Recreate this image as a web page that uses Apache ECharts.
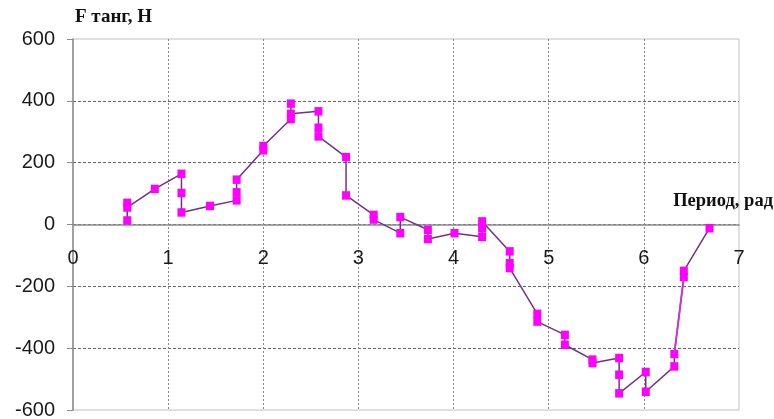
<!DOCTYPE html>
<html>
<head>
<meta charset="utf-8">
<script src="https://cdn.jsdelivr.net/npm/echarts@6/dist/echarts.min.js"></script>
<style>
  html, body { margin: 0; padding: 0; background: #fff; }
  #main { width: 774px; height: 419px; }
</style>
</head>
<body>
<div id="main"></div>
<script>
// период, рад
var periodX = [0.57, 0.57, 0.57, 0.86, 1.14, 1.14, 1.14, 1.44, 1.72, 1.72, 1.72,
  2.0, 2.0, 2.29, 2.29, 2.29, 2.58, 2.58, 2.58, 2.87, 2.87, 3.16, 3.16, 3.44, 3.44,
  3.73, 3.73, 4.01, 4.30, 4.30, 4.30, 4.59, 4.59, 4.59, 4.88, 4.88, 5.17, 5.17,
  5.46, 5.46, 5.74, 5.74, 5.74, 6.02, 6.02, 6.32, 6.32, 6.42, 6.42, 6.69];
// F танг, Н
var forceY = [13, 70, 55, 115, 164, 102, 39, 60, 78, 104, 145,
  240, 254, 341, 391, 358, 366, 313, 285, 218, 94, 31, 16, -28, 24,
  -17, -47, -28, -40, -12, 10, -87, -125, -141, -289, -314, -357, -389,
  -437, -448, -432, -486, -546, -477, -541, -459, -419, -170, -150, -12];

var pts = [];
for (var i = 0; i < periodX.length; i++) {
  pts.push([periodX[i], forceY[i]]);
}
// the steep rise near 6.4 is drawn brighter in the original
var steepPart = pts.slice(46, 48);

var chartH = 419, gridTop = 39, gridBottom = 9;
// x axis sits on the zero line (middle of the -600..600 range)
var zeroShift = -(chartH - gridTop - gridBottom) / 2;

var myChart = echarts.init(document.getElementById('main'));

var option = {
  animation: false,
  grid: {
    left: 73,
    right: 35,
    top: gridTop,
    bottom: gridBottom,
    outerBoundsMode: 'none',
    show: true,
    borderColor: '#c0c0c0',
    borderWidth: 1
  },
  xAxis: {
    type: 'value',
    min: 0,
    max: 7,
    interval: 1,
    offset: zeroShift,
    name: 'Период, рад',
    nameLocation: 'end',
    nameGap: 34,
    nameTextStyle: {
      fontFamily: 'Liberation Serif',
      fontWeight: 'bold',
      fontSize: 18.5,
      color: '#111',
      align: 'right',
      verticalAlign: 'bottom',
      padding: [0, 0, 14, 0]
    },
    axisLine: { onZero: false, lineStyle: { color: '#8c8c8c', width: 1.5 } },
    axisTick: { show: false },
    axisLabel: {
      margin: 24,
      fontFamily: 'Liberation Sans',
      fontSize: 20,
      color: '#1a1a1a'
    },
    splitLine: {
      show: true,
      showMinLine: false,
      showMaxLine: false,
      lineStyle: { color: '#888', type: [2, 2], width: 1 }
    }
  },
  yAxis: {
    type: 'value',
    min: -600,
    max: 600,
    interval: 200,
    name: 'F танг, Н',
    nameLocation: 'end',
    nameGap: 12,
    nameTextStyle: {
      fontFamily: 'Liberation Serif',
      fontWeight: 'bold',
      fontSize: 19,
      color: '#111',
      align: 'left',
      padding: [0, 0, 0, 2]
    },
    axisLine: { show: true, lineStyle: { color: '#8c8c8c', width: 1.5 } },
    axisTick: { show: true, length: 6, lineStyle: { color: '#8c8c8c' } },
    axisLabel: {
      margin: 18,
      fontFamily: 'Liberation Sans',
      fontSize: 20,
      color: '#1a1a1a'
    },
    splitLine: {
      show: true,
      showMinLine: false,
      showMaxLine: false,
      lineStyle: { color: '#666', type: [3, 2], width: 1 }
    }
  },
  series: [{
    type: 'line',
    data: pts,
    symbol: 'rect',
    symbolSize: [8, 8.5],
    itemStyle: { color: '#ff00ff' },
    lineStyle: { color: '#72308a', width: 1.5 },
    z: 3
  }, {
    type: 'line',
    data: steepPart,
    symbol: 'none',
    lineStyle: { color: '#d030d8', width: 1.8 },
    z: 4
  }]
};

myChart.setOption(option);
</script>
</body>
</html>
